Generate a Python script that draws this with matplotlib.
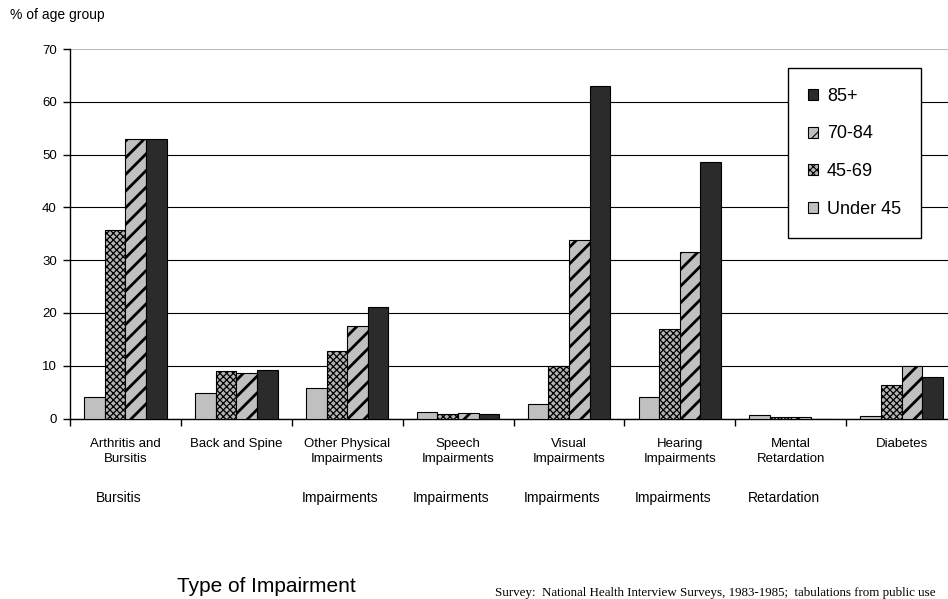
import numpy as np
import matplotlib.pyplot as plt
import matplotlib.transforms as mtransforms

plt.rcParams['font.family'] = ['Liberation Sans', 'DejaVu Sans']

# data
categories = ["Arthritis and\nBursitis", "Back and Spine", "Other Physical\nImpairments",
              "Speech\nImpairments", "Visual\nImpairments", "Hearing\nImpairments",
              "Mental\nRetardation", "Diabetes"]
second_row = ["Bursitis", "", "Impairments", "Impairments", "Impairments",
              "Impairments", "Retardation", ""]
under45 = [4.1, 4.8, 5.7, 1.2, 2.7, 4.0, 0.6, 0.5]
age45_69 = [35.7, 9.0, 12.7, 0.8, 9.9, 16.9, 0.3, 6.3]
age70_84 = [52.9, 8.6, 17.5, 1.1, 33.8, 31.5, 0.3, 9.9]
age85 = [53.0, 9.1, 21.2, 0.9, 63.0, 48.6, 0.0, 7.8]
series_names = ["Under 45", "45-69", "70-84", "85+"]
yticks = [0, 10, 20, 30, 40, 50, 60, 70]

W, H = 948, 599
fig = plt.figure(figsize=(W / 100, H / 100), dpi=100)
# plot area runs past the right edge, like the cropped original
ax = fig.add_axes([70 / W, 1 - 418.5 / H, 887 / W, 369.5 / H])

x = np.arange(len(categories))
bw = 0.186
styles = [
    dict(color="#c0c0c0", hatch=None, hlw=0.8),
    dict(color="#b4b4b4", hatch="xxxxx", hlw=0.9),
    dict(color="#c0c0c0", hatch="//", hlw=2.0),
    dict(color="#2b2b2b", hatch=None, hlw=0.8),
]
handles = []
for k, vals in enumerate([under45, age45_69, age70_84, age85]):
    st = styles[k]
    plt.rcParams['hatch.linewidth'] = st["hlw"]
    bars = ax.bar(x + (k - 1.5) * bw, vals, bw, color=st["color"], hatch=st["hatch"],
                  edgecolor="black", linewidth=0.8, label=series_names[k], zorder=3)
    for b in bars:
        try:
            b.set_hatch_linewidth(st["hlw"])
        except AttributeError:
            pass
    handles.append(bars)

ax.set_xlim(-0.5, len(categories) - 0.5)
ax.set_ylim(0, 70)
ax.set_yticks(yticks)
ax.yaxis.grid(True, color="black", linewidth=0.8, zorder=0)
ax.yaxis.get_gridlines()[-1].set_color("#bdbdbd")
ax.set_axisbelow(True)

for s in ["top", "right"]:
    ax.spines[s].set_visible(False)
ax.spines["left"].set_linewidth(1.0)
ax.spines["bottom"].set_linewidth(1.0)

ax.set_xticks(np.arange(len(categories) + 1) - 0.5)
ax.set_xticklabels([])
ax.set_xticks(x, minor=True)
ax.set_xticklabels(categories, minor=True, fontsize=9.5, linespacing=1.35)
ax.tick_params(axis="x", which="major", direction="out", length=5, width=1)
ax.tick_params(axis="x", which="minor", length=0, pad=14)
ax.tick_params(axis="y", direction="out", length=5, width=1, labelsize=9.5, pad=4.5)

# second row of labels under the categories
tr = mtransforms.blended_transform_factory(ax.transData, fig.transFigure)
for i, t in enumerate(second_row):
    if t:
        ax.text(i - 0.06, 1 - 498 / H, t, transform=tr, ha="center", va="center",
                fontsize=10, clip_on=False)

leg = ax.legend(handles[::-1], series_names[::-1],
                bbox_to_anchor=(718 / 887, 0.47, 133 / 887, 0.479), loc="upper left",
                mode="expand", fontsize=13, frameon=True, fancybox=False,
                borderpad=1.1, labelspacing=1.15, handlelength=0.55, handleheight=0.55,
                handletextpad=0.5, borderaxespad=0)
leg.get_frame().set_edgecolor("black")
leg.get_frame().set_linewidth(1.0)
leg.get_frame().set_alpha(1)
leg.set_zorder(5)

fig.text(10 / W, 1 - 15 / H, "% of age group", fontsize=10, ha="left", va="center")
fig.text(177 / W, 1 - 592.5 / H, "Type of Impairment", fontsize=15, ha="left",
         va="baseline")
fig.text(495 / W, 1 - 596 / H,
         "Survey:  National Health Interview Surveys, 1983-1985;  tabulations from public use",
         fontsize=9.4, ha="left", va="baseline", family=["Liberation Serif", "DejaVu Serif"])

fig.savefig("out.png", dpi=100)
